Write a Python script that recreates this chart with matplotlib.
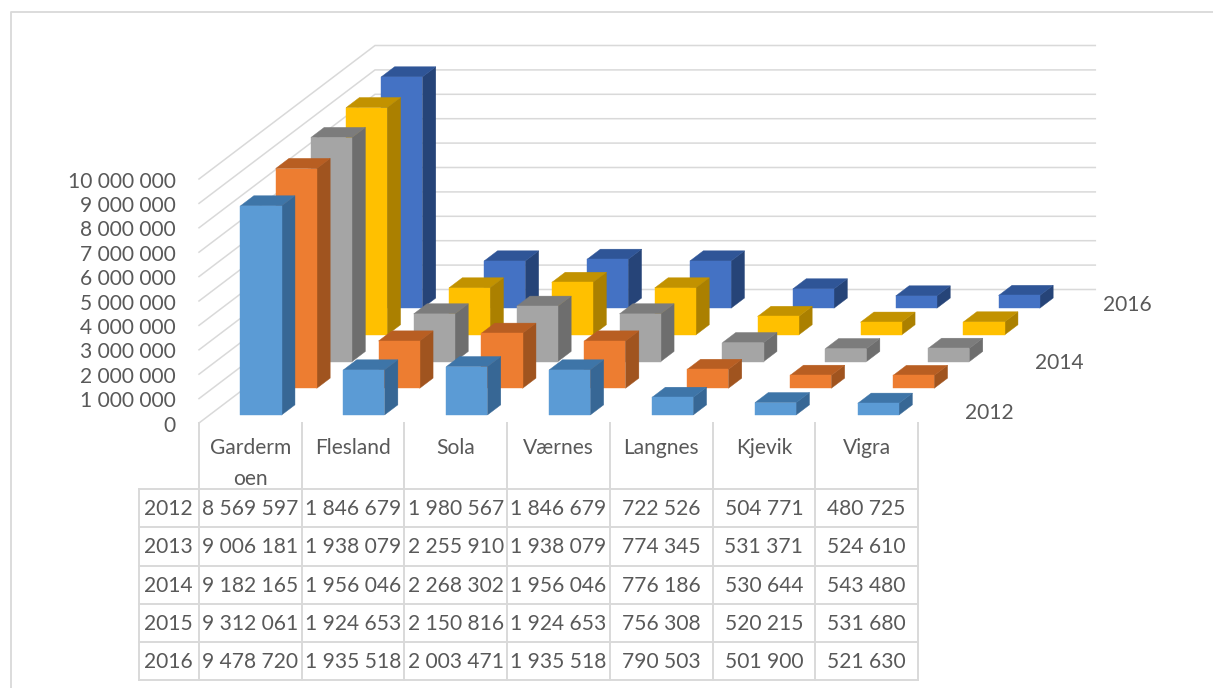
import matplotlib
matplotlib.use('Agg')
import matplotlib.pyplot as plt
from matplotlib.patches import Polygon

# -- Passenger numbers per airport and year
airports = ['Gardermoen', 'Flesland', 'Sola', 'Værnes', 'Langnes', 'Kjevik', 'Vigra']
airport_labels = ['Garderm\noen', 'Flesland', 'Sola', 'Værnes', 'Langnes', 'Kjevik', 'Vigra']
years = ['2012', '2013', '2014', '2015', '2016']
values_2012 = [8569597, 1846679, 1980567, 1846679, 722526, 504771, 480725]
values_2013 = [9006181, 1938079, 2255910, 1938079, 774345, 531371, 524610]
values_2014 = [9182165, 1956046, 2268302, 1956046, 776186, 530644, 543480]
values_2015 = [9312061, 1924653, 2150816, 1924653, 756308, 520215, 531680]
values_2016 = [9478720, 1935518, 2003471, 1935518, 790503, 501900, 521630]
series = [values_2012, values_2013, values_2014, values_2015, values_2016]
axis_ticks = [0, 1000000, 2000000, 3000000, 4000000, 5000000, 6000000, 7000000, 8000000, 9000000, 10000000]
depth_labels = ['2012', '2014', '2016']

# -- Colours per series: front, top and side face
front_colors = ['#5B9BD5', '#ED7D31', '#A5A5A5', '#FFC000', '#4472C4']
top_colors = ['#3E75A8', '#B85E22', '#7C7C7C', '#C29200', '#2F5597']
side_colors = ['#376795', '#A0541F', '#6E6E6E', '#AB8000', '#264478']
grid_color = '#D9D9D9'
text_color = '#595959'

plt.rcParams['font.family'] = ['Lato', 'DejaVu Sans']
font_size = 15.1

fig = plt.figure(figsize=(12.13, 6.88), dpi=100)
ax = fig.add_axes([0, 0, 1, 1])
ax.set_xlim(0, 1213)
ax.set_ylim(688, 0)
ax.axis('off')


# -- Oblique projection from (airport, year depth, value) to figure pixels
def project(col, depth, value):
    x = 199.0 + 102.9 * col + 35.2 * depth
    y = 423 - 26.7 * depth - value * 24.4e-6
    return x, y


def fmt(value):
    return f'{value:,}'.replace(',', ' ')


def add_face(points, color, zorder):
    # thin edge in the face colour closes the seams between neighbouring faces
    ax.add_patch(Polygon(points, closed=True, fc=color, ec=color, lw=0.3, zorder=zorder))


# -- Outer frame of the chart area (left and top only)
ax.plot([10.5, 10.5, 1213], [688, 11.5, 11.5], color=grid_color, lw=1.3, zorder=1)

# -- Gridlines on the side wall and back wall
for tick in axis_ticks:
    x0, y0 = project(0, 0, tick)
    x1, y1 = project(0, 5, tick)
    x2, y2 = project(7, 5, tick)
    ax.plot([x0, x1, x2], [y0, y1, y2], color=grid_color, lw=1.1, zorder=1, solid_joinstyle='miter')
    ax.text(176, y0 + 2.5, fmt(tick), ha='right', va='center', color=text_color, fontsize=font_size)

# -- Bars, back row first so the front rows cover them
bar_width = 0.4
bar_depth = 0.38
zorder = 2
for row in range(len(years) - 1, -1, -1):
    for col in range(len(airports)):
        value = series[row][col]
        c0 = col + 0.3
        c1 = c0 + bar_width
        d0 = row + 0.3
        d1 = d0 + bar_depth
        front = [project(c0, d0, 0), project(c1, d0, 0), project(c1, d0, value), project(c0, d0, value)]
        top = [project(c0, d0, value), project(c1, d0, value), project(c1, d1, value), project(c0, d1, value)]
        side = [project(c1, d0, 0), project(c1, d1, 0), project(c1, d1, value), project(c1, d0, value)]
        add_face(side, side_colors[row], zorder)
        add_face(top, top_colors[row], zorder)
        add_face(front, front_colors[row], zorder)
    zorder += 1

# -- Labels on the depth axis
label_offsets = {'2012': (28, 3), '2014': (28, 6.5), '2016': (25.5, 2.5)}
for label in depth_labels:
    row = years.index(label)
    x, y = project(7, row + 0.5, 0)
    dx, dy = label_offsets[label]
    ax.text(x + dx, y + dy, label, ha='left', va='center', color=text_color, fontsize=font_size)

# -- Data table below the bars
table_left = 138.5
table_x0 = 199.0
col_width = 102.7
table_x1 = table_x0 + col_width * len(airports)
header_top = 423
row_top = 489.3
row_height = 38.1
table_bottom = row_top + row_height * len(years)

for col in range(len(airports) + 1):
    x = table_x0 + col * col_width
    ax.plot([x, x], [header_top, table_bottom], color=grid_color, lw=1.4, zorder=1)
ax.plot([table_left, table_left], [row_top, table_bottom], color=grid_color, lw=1.4, zorder=1)
for row in range(len(years) + 1):
    y = row_top + row * row_height
    ax.plot([table_left, table_x1], [y, y], color=grid_color, lw=1.4, zorder=1)

for col, label in enumerate(airport_labels):
    x = table_x0 + (col + 0.5) * col_width
    ax.text(x, 438, label, ha='center', va='top', color=text_color, fontsize=font_size, linespacing=1.7)

for row, year in enumerate(years):
    y = row_top + (row + 0.5) * row_height + 1
    ax.text((table_left + table_x0) / 2, y, year, ha='center', va='center', color=text_color, fontsize=font_size)
    for col in range(len(airports)):
        x = table_x0 + (col + 0.5) * col_width
        ax.text(x, y, fmt(series[row][col]), ha='center', va='center', color=text_color, fontsize=font_size)

fig.savefig('out.png', dpi=100)
plt.close(fig)
